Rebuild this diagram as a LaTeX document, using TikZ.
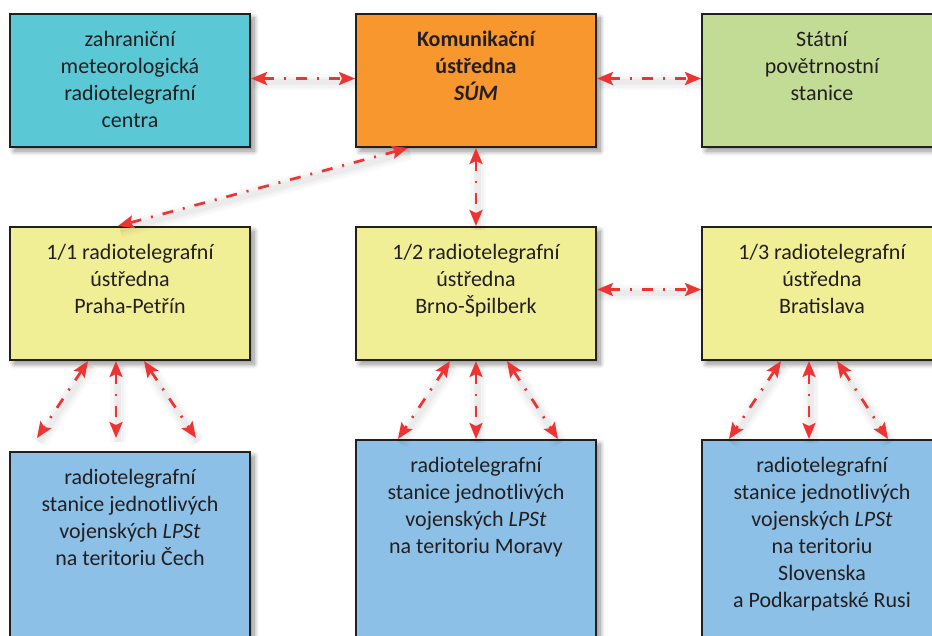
\documentclass[tikz,border=0pt]{standalone}
\usepackage{fontspec}
\setmainfont{Carlito}
\usetikzlibrary{arrows.meta,shadows.blur}
\definecolor{cyanbox}{HTML}{5BC8D5}
\definecolor{orangebox}{HTML}{F7972D}
\definecolor{greenbox}{HTML}{C2DB95}
\definecolor{yellowbox}{HTML}{F1EF96}
\definecolor{bluebox}{HTML}{8DC0E7}
\definecolor{edgeink}{HTML}{231F20}
\definecolor{linkred}{HTML}{EE3333}
% strut that fixes the height of a caption's first line
\newcommand{\fls}{\rule{0pt}{18pt}}
\begin{document}
\begin{tikzpicture}[x=1pt,y=-1pt,
  panel/.style={draw=edgeink, line width=2pt, rectangle, inner sep=0pt,
    minimum width=240pt, minimum height=133pt,
    blur shadow={shadow xshift=4pt, shadow yshift=-4pt, shadow blur radius=5pt,
      shadow blur steps=10, shadow opacity=45}},
  tall/.style={minimum height=260pt},
  caption/.style={anchor=north, inner sep=0pt, align=center, text=edgeink,
    font=\fontsize{22}{27}\selectfont},
  tip/.tip={Stealth[length=16pt,width=13pt,inset=3pt]},
  haze/.style={-, draw=black, draw opacity=#1, solid,
    transform canvas={shift={(2pt,-4pt)}}},
  dlink/.style={draw=linkred, line width=2.7pt,
    dash pattern=on 11pt off 10pt on 2pt off 10pt, tip-tip,
    preaction={haze=0.025, line width=16pt},
    preaction={haze=0.025, line width=11pt},
    preaction={haze=0.03, line width=6pt}}
]
\useasboundingbox (0,0) rectangle (932,636);
\clip (0,0) rectangle (932,636);

% top row
\node[panel, fill=cyanbox]   (c) at (130,80.5) {};
\node[panel, fill=orangebox] (o) at (476,80.5) {};
\node[panel, fill=greenbox]  (g) at (822,80.5) {};
% regional centres
\node[panel, fill=yellowbox] (y1) at (130,293.5) {};
\node[panel, fill=yellowbox] (y2) at (476,293.5) {};
\node[panel, fill=yellowbox] (y3) at (822,293.5) {};
% stations
\node[panel, tall, fill=bluebox] (b1) at (130,582) {};
\node[panel, tall, fill=bluebox] (b2) at (476,570) {};
\node[panel, tall, fill=bluebox] (b3) at (822,570) {};

% captions
\node[caption] (tc) at ([yshift=-15pt]c.north)
  {\fls zahraniční\\meteorologická\\radiotelegrafní\\centra};
\node[caption] (to) at ([yshift=-15pt]o.north)
  {\fls\bfseries Komunikační\\\bfseries ústředna\\\bfseries\itshape SÚM};
\node[caption] (tg) at ([yshift=-15pt]g.north)
  {\fls Státní\\povětrnostní\\stanice};
\node[caption] (ty1) at ([yshift=-15pt]y1.north)
  {\fls 1/1 radiotelegrafní\\ústředna\\Praha-Petřín};
\node[caption] (ty2) at ([yshift=-15pt]y2.north)
  {\fls 1/2 radiotelegrafní\\ústředna\\Brno-Špilberk};
\node[caption] (ty3) at ([yshift=-15pt]y3.north)
  {\fls 1/3 radiotelegrafní\\ústředna\\Bratislava};
\node[caption] (tb1) at ([yshift=-15pt]b1.north)
  {\fls radiotelegrafní\\stanice jednotlivých\\vojenských \textit{LPSt}\\na teritoriu Čech};
\node[caption] (tb2) at ([yshift=-15pt]b2.north)
  {\fls radiotelegrafní\\stanice jednotlivých\\vojenských \textit{LPSt}\\na teritoriu Moravy};
\node[caption] (tb3) at ([yshift=-15pt]b3.north)
  {\fls radiotelegrafní\\stanice jednotlivých\\vojenských \textit{LPSt}\\na teritoriu\\Slovenska\\a Podkarpatské Rusi};

% links between the centres
\draw[dlink] ([yshift=2pt]c.east) -- ([yshift=2pt]o.west);
\draw[dlink] ([yshift=2pt]o.east) -- ([yshift=2pt]g.west);
\draw[dlink] ([xshift=-68pt]o.south) -- ([xshift=-12pt]y1.north);
\draw[dlink] (o.south) -- (y2.north);
\draw[dlink] ([yshift=4pt]y2.east) -- ([yshift=4pt]y3.west);

% links to the stations
\draw[dlink] ([xshift=-42pt]y1.south) -- ([xshift=-93pt,yshift=13pt]b1.north);
\draw[dlink] ([xshift=-14pt]y1.south) -- ([xshift=-14pt,yshift=13pt]b1.north);
\draw[dlink] ([xshift=14pt]y1.south)  -- ([xshift=66pt,yshift=13pt]b1.north);

\draw[dlink] ([xshift=-26pt]y2.south) -- ([xshift=-78pt]b2.north);
\draw[dlink] (y2.south) -- (b2.north);
\draw[dlink] ([xshift=31pt]y2.south)  -- ([xshift=82pt]b2.north);

\draw[dlink] ([xshift=-41pt]y3.south) -- ([xshift=-93pt]b3.north);
\draw[dlink] ([xshift=-13pt]y3.south) -- ([xshift=-13pt]b3.north);
\draw[dlink] ([xshift=15pt]y3.south)  -- ([xshift=66pt]b3.north);
\end{tikzpicture}
\end{document}
